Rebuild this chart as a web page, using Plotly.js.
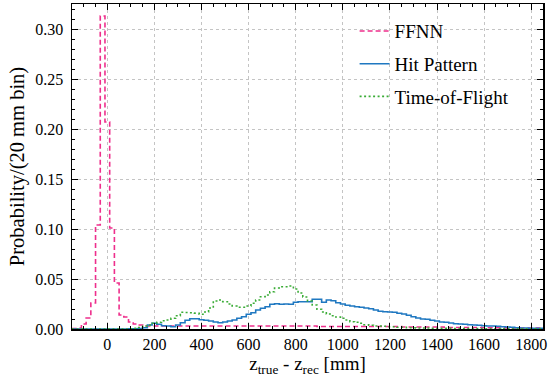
<!DOCTYPE html>
<html>
<head>
<meta charset="utf-8">
<script src="https://cdn.plot.ly/plotly-3.0.1.min.js"></script>
<style>html,body{margin:0;padding:0;background:#fff;}#chart{width:555px;height:381px;}</style>
</head>
<body>
<div id="chart"></div>
<script>
// Histogram binning (mm): 100 bins of 20 mm starting at -150 mm
const binStart = -150;
const binWidth = 20;

// Series values: probability per 20 mm bin, bin k covers [binStart+20k, binStart+20k+20)
const ffnn = [
  0.0005, 0.001, 0.005, 0.011, 0.026, 0.104, 0.313, 0.207, 0.101, 0.046,
  0.014, 0.012, 0.007, 0.005, 0.004, 0.003, 0.003, 0.003, 0.003, 0.003,
  0.003, 0.003, 0.003, 0.003, 0.003, 0.003, 0.003, 0.003, 0.003, 0.003,
  0.003, 0.003, 0.003, 0.003, 0.003, 0.003, 0.003, 0.003, 0.003, 0.003,
  0.003, 0.003, 0.003, 0.003, 0.003, 0.003, 0.003, 0.003, 0.003, 0.003,
  0.003, 0.003, 0.0025, 0.0025, 0.0025, 0.0025, 0.0025, 0.0025, 0.0025, 0.0025,
  0.0025, 0.0025, 0.0025, 0.0025, 0.0025, 0.0025, 0.0025, 0.0025, 0.0025, 0.0025,
  0.002, 0.002, 0.002, 0.002, 0.002, 0.002, 0.002, 0.002, 0.002, 0.0015,
  0.0015, 0.0015, 0.0015, 0.0015, 0.0015, 0.0015, 0.0015, 0.0012, 0.0012, 0.0012,
  0.0012, 0.0012, 0.001, 0.001, 0.001, 0.001, 0.001, 0.001, 0.001, 0.001
];
const hitPattern = [
  0, 0, 0, 0, 0, 0, 0, 0, 0, 0,
  0, 0, 0.0002, 0.0003, 0.0005, 0.0013, 0.004, 0.0057, 0.0047, 0.0033,
  0.003, 0.0023, 0.004, 0.0063, 0.0087, 0.0103, 0.0103, 0.0093, 0.0087, 0.008,
  0.007, 0.0063, 0.007, 0.008, 0.009, 0.0107, 0.0123, 0.0147, 0.0163, 0.019,
  0.0207, 0.0223, 0.0247, 0.0253, 0.0247, 0.025, 0.0247, 0.0267, 0.0273, 0.0273,
  0.0273, 0.0297, 0.0297, 0.0267, 0.029, 0.0283, 0.0263, 0.025, 0.0237, 0.023,
  0.0223, 0.0217, 0.021, 0.0203, 0.019, 0.0177, 0.0173, 0.017, 0.0167, 0.0157,
  0.015, 0.0137, 0.0123, 0.011, 0.010, 0.0097, 0.0087, 0.008, 0.007, 0.0067,
  0.006, 0.0053, 0.005, 0.0047, 0.0043, 0.004, 0.0037, 0.0033, 0.003, 0.003,
  0.0027, 0.0023, 0.002, 0.0017, 0.0013, 0.001, 0.001, 0.0007, 0.0007, 0.0007
];
const timeOfFlight = [
  0, 0, 0, 0, 0, 0, 0, 0, 0, 0,
  0, 0, 0.0003, 0.0007, 0.0015, 0.003, 0.004, 0.0057, 0.0067, 0.0083,
  0.009, 0.0107, 0.0133, 0.0167, 0.0165, 0.0163, 0.0157, 0.0147, 0.017, 0.021,
  0.028, 0.029, 0.0273, 0.025, 0.023, 0.0217, 0.0217, 0.023, 0.0257, 0.029,
  0.0323, 0.034, 0.0373, 0.041, 0.0423, 0.0423, 0.043, 0.040, 0.036, 0.032,
  0.028, 0.024, 0.0197, 0.017, 0.015, 0.0133, 0.012, 0.0107, 0.009, 0.0073,
  0.0067, 0.0057, 0.0043, 0.0037, 0.003, 0.003, 0.0027, 0.0023, 0.0023, 0.0017,
  0.0017, 0.0013, 0.0013, 0.001, 0.001, 0.001, 0.0008, 0.0008, 0.0007, 0.0007,
  0.0006, 0.0005, 0.0005, 0.0005, 0.0004, 0.0004, 0.0004, 0.0003, 0.0003, 0.0003,
  0.0003, 0.0002, 0.0002, 0.0002, 0.0002, 0.0002, 0.0002, 0.0002, 0.0002, 0.0002
];

const seriesNames = ["FFNN", "Hit Pattern", "Time-of-Flight"];
const seriesColors = ["#ee2f8c", "#1f78c1", "#3aac36"];
const seriesDash = ["5px,3px", "solid", "2px,2.5px"];

function stepXY(vals) {
  const x = [], y = [];
  for (let k = 0; k < vals.length; k++) { x.push(binStart + k * binWidth); y.push(vals[k]); }
  x.push(binStart + vals.length * binWidth); y.push(vals[vals.length - 1]);
  return {x, y};
}

const allSeries = [ffnn, hitPattern, timeOfFlight];
const traces = allSeries.map((vals, i) => {
  const s = stepXY(vals);
  return {
    type: "scatter", mode: "lines", x: s.x, y: s.y, name: seriesNames[i],
    legendgroup: "g" + i,
    line: {shape: "hv", color: seriesColors[i], width: 1.6, dash: seriesDash[i]}
  };
});

const serif = "Liberation Serif";
const axisCommon = {
  showline: true, linecolor: "#000", linewidth: 1.5, mirror: "allticks",
  ticks: "inside", ticklen: 6, tickwidth: 1, tickcolor: "#000",
  showgrid: true, gridcolor: "#c4c4c4", griddash: "dot", gridwidth: 1,
  zeroline: false, tickfont: {family: serif, size: 16, color: "#000"}
};

const layout = {
  width: 555, height: 381,
  margin: {l: 72, r: 12, t: 4, b: 52},
  paper_bgcolor: "#fff", plot_bgcolor: "#fff",
  font: {family: serif, color: "#000"},
  showlegend: true,
  legend: {x: 0.6, xanchor: "left", y: 0.975, yanchor: "top", bgcolor: "rgba(0,0,0,0)",
           font: {family: serif, size: 19, color: "#000"}, tracegroupgap: 5},
  xaxis: Object.assign({}, axisCommon, {
    range: [-150, 1850], tick0: 0, dtick: 200,
    minor: {dtick: 50, tick0: 0, ticks: "inside", ticklen: 3, tickcolor: "#000", showgrid: false},
    title: {text: "z<sub>true</sub> - z<sub>rec</sub> [mm]", font: {family: serif, size: 19, color: "#000"}, standoff: 5}
  }),
  yaxis: Object.assign({}, axisCommon, {
    range: [0, 0.325], tick0: 0, dtick: 0.05, tickformat: ".2f", ticklabelstandoff: 4,
    minor: {dtick: 0.01, tick0: 0, ticks: "inside", ticklen: 3, tickcolor: "#000", showgrid: false},
    title: {text: "Probability/(20 mm bin)", font: {family: serif, size: 20.5, color: "#000"}, standoff: 5}
  })
};

Plotly.newPlot("chart", traces, layout, {displayModeBar: false, staticPlot: true});
</script>
</body>
</html>
